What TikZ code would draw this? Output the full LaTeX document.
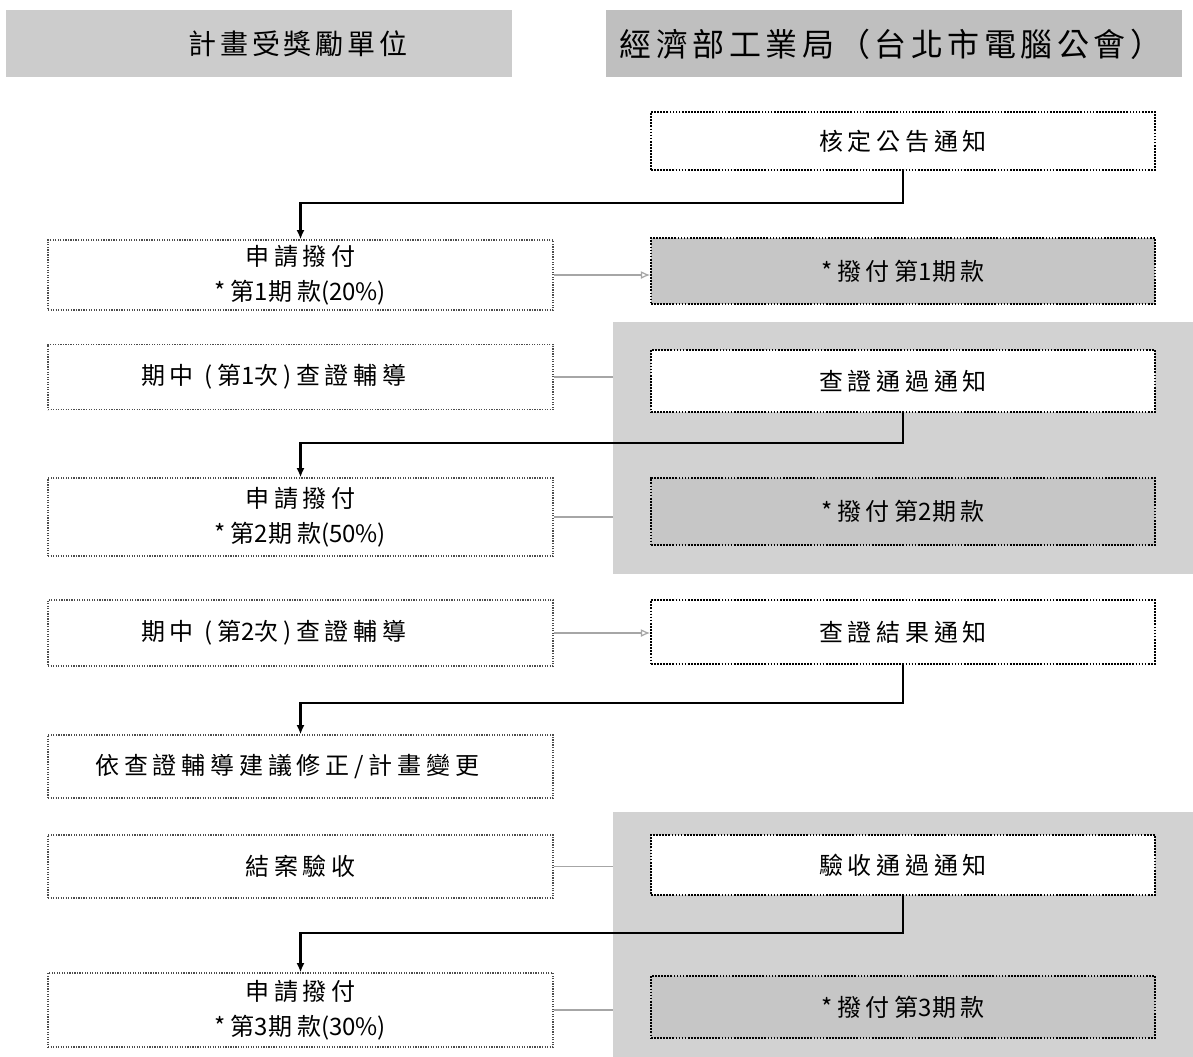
\documentclass[tikz,border=0pt]{standalone}
\usepackage{fontspec}
\newfontfamily\boxfont[LetterSpace=20]{Noto Sans CJK TC}
\newfontfamily\headfont[LetterSpace=14]{Noto Sans CJK TC}
\newfontfamily\numfont{Noto Sans CJK TC}
\newcommand\num[1]{{\numfont #1}}
\usetikzlibrary{arrows.meta}

\begin{document}
\begin{tikzpicture}[x=0.75pt,y=0.75pt,yscale=-1,xscale=1,
  headbar/.style={fill=gray!40, inner sep=0pt, minimum height=50.25pt},
  headtext/.style={inner sep=0.75pt, font=\headfont\fontsize{21}{24}\selectfont},
  lbox/.style={draw=black!70, densely dotted, line width=0.9pt, fill=white, minimum width=378.75pt, align=center, inner sep=0.75pt, font=\boxfont\fontsize{18}{26}\selectfont},
  rbox/.style={draw=black, densely dotted, line width=1.3pt, fill=white, minimum width=378pt, align=center, inner sep=0.75pt, font=\boxfont\fontsize{18}{26}\selectfont},
  paybox/.style={rbox, fill=gray!45},
  panel/.style={fill=gray!35, inner sep=0pt, minimum width=435pt},
  flow/.style={line width=1.6pt, -{Latex[length=7pt,width=6pt]}},
  link/.style={draw=gray!70, line width=0.9pt},
  linkarrow/.style={link, -{Latex[open,length=7pt,width=6pt]}}
]
\useasboundingbox (0,0) rectangle (1193,1057);

%Shape: Header bars
\node[headbar, minimum width=379.5pt] (hdrL) at (259,43.5) {};
\node[headbar, minimum width=432pt, fill=gray!50] (hdrR) at (894,43.5) {};
% Text Node
\node[headtext] (hdrLtext) at (298,44) {計畫受獎勵單位};
% Text Node
\node[headtext, font=\headfont\fontsize{24}{27}\selectfont] (hdrRtext) at (891,44) {經濟部工業局（台北市電腦公會）};

%Shape: Gray panels
\node[panel, minimum height=189pt] (bgA) at (903,448) {};
\node[panel, minimum height=183.75pt] (bgB) at (903,934.5) {};

%Shape: Boxes
\node[rbox, minimum height=43.5pt] (approve) at (903,141) {核定公告通知};
\node[lbox, minimum height=52.5pt] (applyA) at (300.5,275) {申請撥付\\*第\num{1}期款\num{(20\%)}};
\node[paybox, minimum height=49.5pt] (payA) at (903,271) {*撥付第\num{1}期款};
\node[lbox, minimum height=48.75pt] (auditA) at (300.5,377) {期中 (第\num{1}次)查證輔導\hspace*{40pt}};
\node[rbox, minimum height=46.5pt] (passA) at (903,381) {查證通過通知};
\node[lbox, minimum height=58.5pt] (applyB) at (300.5,517) {申請撥付\\*第\num{2}期款\num{(50\%)}};
\node[paybox, minimum height=50.25pt] (payB) at (903,511.5) {*撥付第\num{2}期款};
\node[lbox, minimum height=49.5pt] (auditB) at (300.5,633) {期中 (第\num{2}次)查證輔導\hspace*{40pt}};
\node[rbox, minimum height=48pt] (result) at (903,632) {查證結果通知};
\node[lbox, minimum height=47.25pt] (revise) at (300.5,766.5) {依查證輔導建議修正/計畫變更\hspace*{20pt}};
\node[lbox, minimum height=47.25pt] (close) at (300.5,866.5) {結案驗收};
\node[rbox, minimum height=45pt] (passB) at (903,865) {驗收通過通知};
\node[lbox, minimum height=55.5pt] (applyC) at (300.5,1010) {申請撥付\\*第\num{3}期款\num{(30\%)}};
\node[paybox, minimum height=46.5pt] (payC) at (903,1007) {*撥付第\num{3}期款};

%Turn points
\coordinate (turnA) at (0,203);
\coordinate (turnB) at (0,443);
\coordinate (turnC) at (0,703);
\coordinate (turnD) at (0,933);

%Connectors
\draw[flow] (approve.south) -- (approve.south |- turnA) -| (applyA.north);
\draw[flow] (passA.south) -- (passA.south |- turnB) -| (applyB.north);
\draw[flow] (result.south) -- (result.south |- turnC) -| (revise.north);
\draw[flow] (passB.south) -- (passB.south |- turnD) -| (applyC.north);

\draw[linkarrow] (applyA.east) -- (payA.west |- applyA.east);
\draw[link] (auditA.east) -- (auditA.east -| bgA.west);
\draw[link] (applyB.east) -- (applyB.east -| bgA.west);
\draw[linkarrow] (auditB.east) -- (result.west |- auditB.east);
\draw[link] (close.east) -- (close.east -| bgB.west);
\draw[link] (applyC.east) -- (applyC.east -| bgB.west);

\end{tikzpicture}
\end{document}
